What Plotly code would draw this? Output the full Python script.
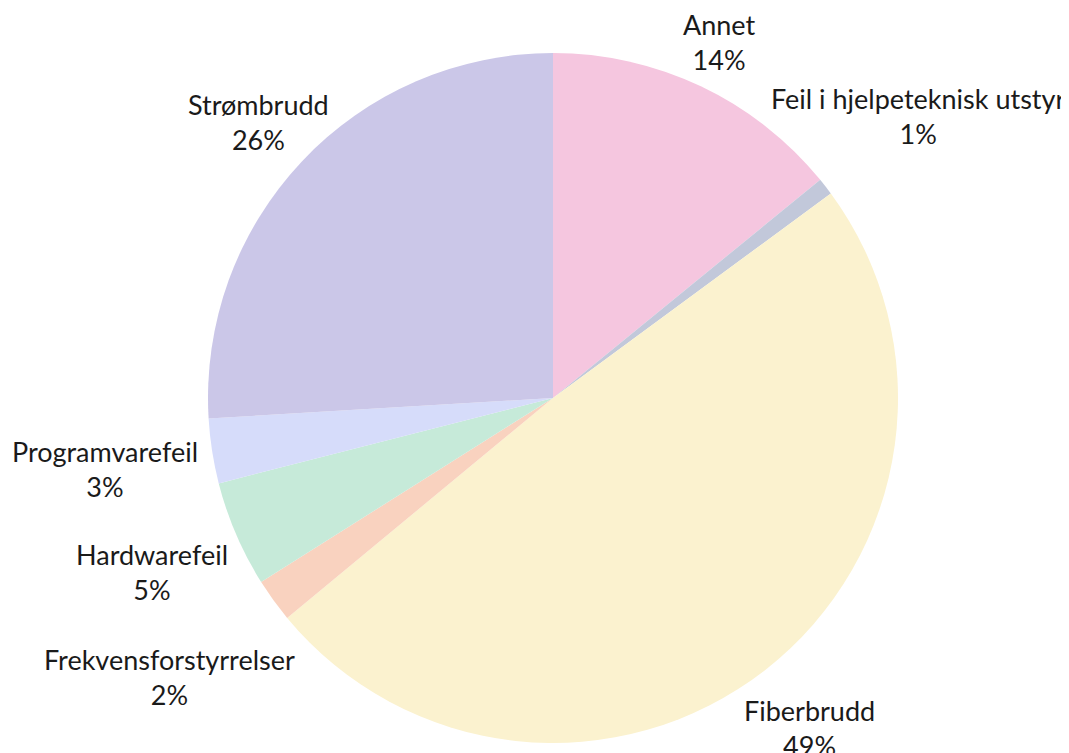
import math
import plotly.graph_objects as go

labels = ["Annet", "Feil i hjelpeteknisk utstyr", "Fiberbrudd", "Frekvensforstyrrelser",
          "Hardwarefeil", "Programvarefeil", "Strømbrudd"]
values = [14.1, 0.8, 49.1, 2.05, 4.97, 3.03, 25.95]
colors = ["#F5C6DF", "#C2C8DA", "#FBF2CF", "#F9D2BF", "#C6EAD9", "#D6DCFA", "#CBC7E8"]

# label nudges (pixels) relative to the slice's mid-point on the pie edge
label_shift = {
    "Annet": (19, -44),
    "Feil i hjelpeteknisk utstyr": (92, -71),
    "Fiberbrudd": (44, 58),
    "Frekvensforstyrrelser": (-104, 77),
    "Hardwarefeil": (-84, 38),
    "Programvarefeil": (-107, 18),
    "Strømbrudd": (-43, -39),
}

W, H = 1069, 753
PAGE_OFF = 8  # default body margin of the html page
cx, cy, r = 553 - PAGE_OFF, 398 - PAGE_OFF, 345
FONT = dict(family="Lato", size=27, color="#1a1a1a")

fig = go.Figure(go.Pie(
    labels=labels, values=values, sort=False, direction="clockwise", rotation=0,
    marker=dict(colors=colors, line=dict(width=0)),
    textinfo="none",
    domain=dict(x=[(cx - r) / W, (cx + r) / W], y=[(H - cy - r) / H, (H - cy + r) / H]),
    showlegend=False, hoverinfo="label+percent",
))

total = sum(values)
cum = 0.0
for lab, v in zip(labels, values):
    mid = (cum + v / 2) / total * 2 * math.pi
    cum += v
    px = cx + r * math.sin(mid)
    py = cy - r * math.cos(mid)
    dx, dy = label_shift[lab]
    fig.add_annotation(
        x=(px + dx) / W, y=1 - (py + dy) / H, xref="paper", yref="paper",
        text=f"{lab}<br>{round(v / total * 100)}%", showarrow=False,
        xanchor="center", yanchor="middle", align="center", font=FONT,
    )

fig.update_layout(width=W, height=H, margin=dict(l=0, r=0, t=0, b=0),
                  paper_bgcolor="white", plot_bgcolor="white", font=FONT)
fig.write_html("out.html")
